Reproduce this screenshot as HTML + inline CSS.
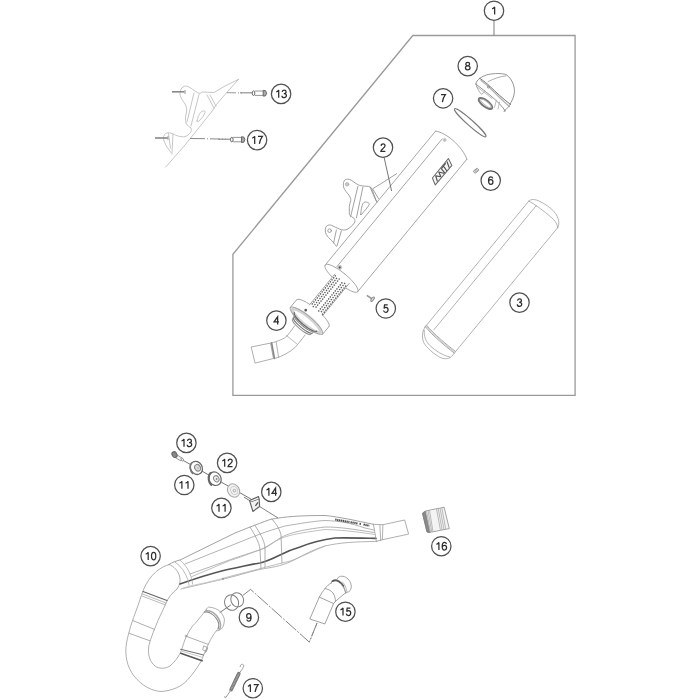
<!DOCTYPE html>
<html><head><meta charset="utf-8">
<style>
html,body{margin:0;padding:0;background:#fff;}
svg{display:block;}
.c circle{fill:#fff;stroke:#505050;stroke-width:1.25;}
.dg path{fill:none;stroke:#2e2e2e;stroke-width:1.25;}
.fr{fill:none;stroke:#9a9a9a;stroke-width:1.3;}
.ld{fill:none;stroke:#666;stroke-width:0.9;}
.p{fill:none;stroke:#8c8c8c;stroke-width:0.8;stroke-linejoin:round;stroke-linecap:round;}
.pl{fill:none;stroke:#b4b4b4;stroke-width:0.8;stroke-linejoin:round;stroke-linecap:round;}
.pd{fill:none;stroke:#555;stroke-width:1;stroke-linecap:round;}
</style></head>
<body>
<svg width="700" height="700" viewBox="0 0 700 700">
<rect width="700" height="700" fill="#fff"/>
<!-- frame -->
<path class="fr" d="M412.8,35.5 L575.1,35.5 L575.1,395.3 L232.9,395.3 L232.9,254.3 Z"/>
<line class="ld" x1="494" y1="20.5" x2="494" y2="35.5" style="stroke:#888;stroke-width:1.1"/>

<!-- PARTS -->
<g id="parts">
<!-- ===== TOP SECTION ===== -->
<!-- sleeve 3 -->
<g transform="translate(439.7,340) rotate(-50.5)" class="pl" style="stroke:#a8a8a8">
  <path d="M0,-19.6 L163.9,-19.6 M4,-11 L165,-11 M0,19.6 L161.7,19.6"/>
  <path d="M163.9,-19.6 C167,-19.5 169.5,-16 170.7,-10.7 C172,-5 172.5,1 172,5 C171.5,10 169.5,15 165.1,18.3 L161.7,19.6"/>
  <path d="M165,-11 C165.8,-4 165.8,6 165.3,11.5 C165,15 163.5,18 161.7,19.6"/>
  <path d="M163.9,-19.6 C164.5,-16 165,-13 165,-11"/>
  <!-- bottom band + cap -->
  <path d="M1.2,-19.6 C-1.2,-8 -1.2,8 -0.8,19.6" style="stroke:#a0a0a0;stroke-width:0.9"/>
  <path d="M3,-19.6 C0.8,-8 0.8,8 1.2,19.6" style="stroke:#a0a0a0;stroke-width:0.9"/>
  <path d="M2.1,-19.6 C-0.2,-8 -0.2,8 0.2,19.6" style="stroke:#d0d0d0;stroke-width:1.4"/>
  <path d="M1,-19.4 C-4,-19.5 -9,-16 -12,-11 C-14.5,-6 -14.5,6 -13,12 C-11.5,17 -8,19.5 -5,19.6 L-0.8,19.6"/>
  <path d="M-2.3,-18.1 C-7,-15 -10,-10 -10.5,-4 C-11,4 -10,12 -6.7,18.9"/>
</g>

<!-- muffler 2 body -->
<g transform="translate(341.5,278.3) rotate(-50.5)" class="p" style="stroke:#999">
  <path d="M0,-21 L173.5,-21 M6,-11 L171.7,-11 M0,21 L171.6,21"/>
  <path d="M173.5,-21 C176.5,-16 177.5,-8 177.3,-2 C177,7 175,16 171.6,21"/>
  
  <ellipse cx="0" cy="0" rx="5.5" ry="21"/>
  <circle cx="7.2" cy="-8.3" r="2" style="fill:#ddd;stroke:#bbb;stroke-width:0.8"/><circle cx="7.2" cy="-8.3" r="1.1" style="fill:#555;stroke:none"/>
  <circle cx="172.4" cy="-8.4" r="1.6" style="fill:#bbb;stroke:#ccc;stroke-width:0.8"/>
  <!-- logo -->
  <path d="M135.2,6.3 L160.4,6.3 L157.3,13.4 L131.7,13 Z" style="stroke:#666;stroke-width:1;fill:#f4f4f4"/>
  <path d="M136,12 L139,7.5 L141.5,12 L144,7.5 L146,12 M148,7.3 L147,12.3 M149,7.3 L154.5,7.3 M151.5,7.3 L150,12.5 M154,12.5 L157,7.5" style="stroke:#555;stroke-width:1.2"/>
  <!-- flange local -->
  <g>
  <path d="M-55,-21 C-57.7615,-21 -60,-11.5983 -60,0 C-60,11.5983 -57.7615,21 -55,21 L-45,21  C-42.2385,-21 -40,-11.5983 -40,0 C-40,11.5983 -42.2385,21 -45,21" style="fill:#fff;stroke:none"/>
  <path d="M-55,-18 C-52.62511,-18 -50.7,-9.9414 -50.7,0 C-50.7,9.9414 -52.62511,18 -55,18 M-55,-18 C-57.37489,-18 -59.3,-9.9414 -59.3,0 C-59.3,9.9414 -57.37489,18 -55,18" style="fill:none;stroke:#d2d2d2;stroke-width:3.4"/>
  <path d="M-45,-21 C-42.2385,-21 -40,-11.5983 -40,0 C-40,11.5983 -42.2385,21 -45,21"/>
  <path d="M-45,-21 L-55,-21 M-45,21 L-55,21"/>
  <path d="M-55,-21 C-52.2385,-21 -50,-11.5983 -50,0 C-50,11.5983 -52.2385,21 -55,21" style="stroke:#999"/>
  <path d="M-55,-21 C-57.7615,-21 -60,-11.5983 -60,0 C-60,11.5983 -57.7615,21 -55,21"/>
  <path d="M-56.5,-14.5 C-58.43305,-14.5 -60.0,-8.00835 -60.0,0 C-60.0,8.00835 -58.43305,14.5 -56.5,14.5" style="stroke:#666;stroke-width:1.2"/>
  <path d="M-58.5,-13 C-60.1569,-13 -61.5,-7.1799 -61.5,0 C-61.5,7.1799 -60.1569,13 -58.5,13" style="stroke:#888;stroke-width:1"/>
  <path d="M-60.5,-12.5 C-62.1569,-12.5 -63.5,-6.9037500000000005 -63.5,0 C-63.5,6.9037500000000005 -62.1569,12.5 -60.5,12.5" style="stroke:#777;stroke-width:1"/>
  <path d="M-62.5,-12 C-64.1569,-12 -65.5,-6.6276 -65.5,0 C-65.5,6.6276 -64.1569,12 -62.5,12" style="stroke:#999;stroke-width:1"/>
  <circle cx="-47.3" cy="-7.4" r="1.35" style="fill:#555;stroke:none"/>
  </g>
  <rect x="-41" y="-7.8" width="40" height="17" style="fill:#fff;stroke:none"/>
  <!-- perforated tube -->
  <path d="M-1,-7.8 L-41,-7.8 M1,9.2 L-41,9.2"/>
  <g style="fill:#626262;stroke:none"><circle cx="-2.00" cy="-6.3" r="0.8"/><circle cx="-3.30" cy="-3.8" r="0.8"/><circle cx="-2.00" cy="-1.3" r="0.8"/><circle cx="-3.30" cy="3.2" r="0.8"/><circle cx="-2.00" cy="5.7" r="0.8"/><circle cx="-3.30" cy="8.2" r="0.8"/><circle cx="-4.60" cy="-6.3" r="0.8"/><circle cx="-5.90" cy="-3.8" r="0.8"/><circle cx="-4.60" cy="-1.3" r="0.8"/><circle cx="-5.90" cy="3.2" r="0.8"/><circle cx="-4.60" cy="5.7" r="0.8"/><circle cx="-5.90" cy="8.2" r="0.8"/><circle cx="-7.20" cy="-6.3" r="0.8"/><circle cx="-8.50" cy="-3.8" r="0.8"/><circle cx="-7.20" cy="-1.3" r="0.8"/><circle cx="-8.50" cy="3.2" r="0.8"/><circle cx="-7.20" cy="5.7" r="0.8"/><circle cx="-8.50" cy="8.2" r="0.8"/><circle cx="-9.80" cy="-6.3" r="0.8"/><circle cx="-11.10" cy="-3.8" r="0.8"/><circle cx="-9.80" cy="-1.3" r="0.8"/><circle cx="-11.10" cy="3.2" r="0.8"/><circle cx="-9.80" cy="5.7" r="0.8"/><circle cx="-11.10" cy="8.2" r="0.8"/><circle cx="-12.40" cy="-6.3" r="0.8"/><circle cx="-13.70" cy="-3.8" r="0.8"/><circle cx="-12.40" cy="-1.3" r="0.8"/><circle cx="-13.70" cy="3.2" r="0.8"/><circle cx="-12.40" cy="5.7" r="0.8"/><circle cx="-13.70" cy="8.2" r="0.8"/><circle cx="-15.00" cy="-6.3" r="0.8"/><circle cx="-16.30" cy="-3.8" r="0.8"/><circle cx="-15.00" cy="-1.3" r="0.8"/><circle cx="-16.30" cy="3.2" r="0.8"/><circle cx="-15.00" cy="5.7" r="0.8"/><circle cx="-16.30" cy="8.2" r="0.8"/><circle cx="-17.60" cy="-6.3" r="0.8"/><circle cx="-18.90" cy="-3.8" r="0.8"/><circle cx="-17.60" cy="-1.3" r="0.8"/><circle cx="-18.90" cy="3.2" r="0.8"/><circle cx="-17.60" cy="5.7" r="0.8"/><circle cx="-18.90" cy="8.2" r="0.8"/><circle cx="-20.20" cy="-6.3" r="0.8"/><circle cx="-21.50" cy="-3.8" r="0.8"/><circle cx="-20.20" cy="-1.3" r="0.8"/><circle cx="-21.50" cy="3.2" r="0.8"/><circle cx="-20.20" cy="5.7" r="0.8"/><circle cx="-21.50" cy="8.2" r="0.8"/><circle cx="-22.80" cy="-6.3" r="0.8"/><circle cx="-24.10" cy="-3.8" r="0.8"/><circle cx="-22.80" cy="-1.3" r="0.8"/><circle cx="-24.10" cy="3.2" r="0.8"/><circle cx="-22.80" cy="5.7" r="0.8"/><circle cx="-24.10" cy="8.2" r="0.8"/><circle cx="-25.40" cy="-6.3" r="0.8"/><circle cx="-26.70" cy="-3.8" r="0.8"/><circle cx="-25.40" cy="-1.3" r="0.8"/><circle cx="-26.70" cy="3.2" r="0.8"/><circle cx="-25.40" cy="5.7" r="0.8"/><circle cx="-26.70" cy="8.2" r="0.8"/><circle cx="-28.00" cy="-6.3" r="0.8"/><circle cx="-29.30" cy="-3.8" r="0.8"/><circle cx="-28.00" cy="-1.3" r="0.8"/><circle cx="-29.30" cy="3.2" r="0.8"/><circle cx="-28.00" cy="5.7" r="0.8"/><circle cx="-29.30" cy="8.2" r="0.8"/><circle cx="-30.60" cy="-6.3" r="0.8"/><circle cx="-31.90" cy="-3.8" r="0.8"/><circle cx="-30.60" cy="-1.3" r="0.8"/><circle cx="-31.90" cy="3.2" r="0.8"/><circle cx="-30.60" cy="5.7" r="0.8"/><circle cx="-31.90" cy="8.2" r="0.8"/><circle cx="-33.20" cy="-6.3" r="0.8"/><circle cx="-34.50" cy="-3.8" r="0.8"/><circle cx="-33.20" cy="-1.3" r="0.8"/><circle cx="-34.50" cy="3.2" r="0.8"/><circle cx="-33.20" cy="5.7" r="0.8"/><circle cx="-34.50" cy="8.2" r="0.8"/><circle cx="-35.80" cy="-6.3" r="0.8"/><circle cx="-37.10" cy="-3.8" r="0.8"/><circle cx="-35.80" cy="-1.3" r="0.8"/><circle cx="-37.10" cy="3.2" r="0.8"/><circle cx="-35.80" cy="5.7" r="0.8"/><circle cx="-37.10" cy="8.2" r="0.8"/><circle cx="-38.40" cy="-6.3" r="0.8"/><circle cx="-39.70" cy="-3.8" r="0.8"/><circle cx="-38.40" cy="-1.3" r="0.8"/><circle cx="-39.70" cy="3.2" r="0.8"/><circle cx="-38.40" cy="5.7" r="0.8"/><circle cx="-39.70" cy="8.2" r="0.8"/></g>
  </g>
<!-- bracket on muffler -->
<g class="p" style="stroke:#8a8a8a">
  <path d="M396.6,173.7 L380,184.3 L372.9,188.6"/>
  <path d="M377.1,202.1 L375.7,199.3 L371.4,187.9 C370,187 369.5,186.6 368.6,186.4 C364,186 361,186 358.6,185 C355,183.5 352,180 349.3,179.3 C347,178.8 345,179.5 344.3,180.7 C343.3,182.5 343.2,185 343.6,187.1 C344.5,190.5 347.5,193 349.3,195.7 C350.5,197.5 351,199 350.7,200.7 C350.3,203 349.3,204.5 349.3,206.4 L349.3,214.3 C349.8,216.5 353,217 354.3,218.6 C355,220 355.3,221.5 354.3,222.9 C352.5,226 350,227.5 347,229.5 C344.5,230.5 342,230 340,229.3 C337,228.3 334,226.2 331.5,225.3 C329.5,224.6 327.5,225 326.3,226.5 C325.2,228 325.2,230.5 325.5,232.5 C326,235 328,237 330,239 C332,241 334.5,243.5 336.4,246.4"/>
  <path d="M357.9,186.4 L350.7,216.4 M362.9,187.1 L356.4,217.9"/>
  <path d="M370,187.1 L376.4,201.4 M372.9,189.3 L378.6,198.6"/>
  <path d="M336.4,230 L333.6,242.9 M341.4,230.7 L337.1,245.7"/>
  <circle cx="347.1" cy="184.3" r="1.7" style="fill:#ccc;stroke:#aaa"/>
  <circle cx="329.6" cy="230.7" r="1.8"/>
  <path d="M360.7,214.3 C361,210 361.8,206 362.9,203.6 C364,202 365.5,201.8 366.4,202.1 C368,202.5 369.5,203.2 369.3,204.3 C368.5,207 364,211 361.5,214.5 C361,215 360.6,214.8 360.7,214.3 Z"/>
</g>
<!-- pipe 4 -->
<g class="p" style="stroke:#999">
  <path d="M251.6,346.9 L270.5,343.1 L273.5,358.5 L255.4,363 Z"/>
  <path d="M271.6,342.9 L274.4,358.3" style="stroke:#8a8a8a;stroke-width:1.7"/><path d="M276.2,342 L278.6,357.2" style="stroke:#aaa;stroke-width:0.9"/>
  <path d="M271.5,343.1 C278,341 284,339 287,336 C290,333 292,329 294.5,326"/>
  <path d="M274.7,358.5 C283,356 290,352 295,347.5 C299,343 302,339 305,335"/>
  <path d="M286.5,335.5 C290,338 294,342 297.5,344.5" style="stroke:#aaa"/>
</g>




<!-- screw 5 -->
<g style="fill:none;stroke:#888;stroke-width:1">
  <path d="M366.8,295.4 L371.5,298.5" style="stroke-width:1.6;stroke:#999"/>
  <ellipse cx="372.6" cy="299.2" rx="1.1" ry="2.6" transform="rotate(35 372.6 299.2)" style="fill:#ddd;stroke:#888"/>
</g>

<!-- screw 6 -->
<g transform="translate(476.1,170.7) rotate(-38)"><rect x="-2.6" y="-1.4" width="5.2" height="2.8" rx="0.6" style="fill:#ddd;stroke:#888;stroke-width:0.8"/><path d="M-0.6,-1.4 L-0.6,1.4 M1,-1.4 L1,1.4" style="stroke:#999;stroke-width:0.7"/></g>
<!-- O-ring 7 -->
<ellipse cx="470.2" cy="122.7" rx="21" ry="2.9" transform="rotate(41.6 470.2 122.7)" class="p" style="stroke:#7a7a7a;stroke-width:1.1"/>
<!-- cap 8 -->
<g class="p" style="stroke:#7a7a7a">
  <path d="M479.7,78.4 C483,76 486,75 488.1,74.5 C492,73.8 495,73.5 497.7,73.5 C501,73.6 504,73.9 506.1,74.5 C508,76 509.5,77.5 510.6,79 C512.5,82 513.3,84 513.8,86.1 C514.5,89 514.6,90.5 514.4,92.5 C514,96 513,98.5 511.8,100.8 C510.5,103.5 509.5,105.5 508,107.3 C506.8,108.8 505.5,110 504.1,111.1"/>
  <path d="M488.1,81.6 C494,78.5 500,76.5 506.1,75.8" style="stroke:#999"/>
  <path d="M479.7,78.4 C484,81 487,83.5 490,86.5 C496,92 503,99 510.6,104.5" style="stroke:#777;stroke-width:1"/>
  <path d="M481,80.6 C486,84 489.5,87.5 492.5,90.5 C498,96 504,102 509.5,106.5" style="stroke:#b0b0b0;stroke-width:1.2"/>
  <path d="M479.7,78.4 C477.5,80 476,82 475.9,84.1"/>
  <path d="M475.9,84.1 C481,88 486,92 491,96 C497,101 502,106 505.4,111.1 L504.1,111.1"/>
  <path d="M476.5,86.5 C482,90.5 487,94.5 492,98.5" style="stroke:#aaa"/>
  <path d="M475.9,84.1 C477,88 479,92 481.6,94.4 L485,91.5" style="stroke:#999"/>
  <circle cx="488.4" cy="87" r="1.1" style="stroke:#888"/>
  <path d="M496.4,100.2 L494.5,107.3 M499.6,102.1 L498,109" style="stroke:#aaa"/>
  <ellipse cx="485.5" cy="103.5" rx="8.2" ry="3.2" transform="rotate(37 485.5 103.5)" style="stroke:#777;stroke-width:2;fill:#fff"/>
  <ellipse cx="485.9" cy="103.3" rx="6.2" ry="1.9" transform="rotate(37 485.9 103.3)" style="stroke:#bbb;stroke-width:1"/>
</g>
<!-- leader 2 -->
<line x1="384" y1="157" x2="391.6" y2="191" class="ld"/>

<!-- top-left bracket (faint) -->
<g class="pl" style="stroke:#b8b8b8">
  <path d="M238.6,79.3 L225,86 L214,92.5 L202,92 L200,93.5 C197,93 194,90 189,87 C187,86 185,85.5 183,87 C181,88 180,91 180,95 C181,99 184,102 185,104 C186.5,107 187,109 186.5,112 C185.5,116 185,120 186,123 C187,126 190,127 191,128 C192,130 191,133 188,135 C186,136.5 184,137 182,136.8 C179,136.5 176,135.5 173,134 C170,132.5 167.5,132.5 165.5,133.5 C163.5,135 163,138 164,141 C165.5,145 168,149 171,152.5"/>
  <path d="M238.6,79.3 L225,94.5 L216,105 L213,110 L185,145 L165.7,167.1"/>
  <path d="M194,93 L187,122 M199,94.5 L191,126 M207,95 L214,108 M210,95 L216,106"/>
  <path d="M168.5,133.5 L170.5,148 M173,134 L172,154"/>
  <path d="M197,121 C198,117 199.5,113 201,112 C203,110.5 205.5,110.5 205,112.5 C204.5,115 202,118 199,121 C198,122 197,122 197,121 Z"/>
</g>
<!-- bolts 13/17 top -->
<g>
  <path d="M172,91.8 L184.6,91.8" style="stroke:#888;stroke-width:1.6"/>
  <path d="M226.9,92.7 L236,92.8 M238,92.9 L239,92.9 M241,93 L242,93" style="stroke:#999;stroke-width:1"/>
  <path d="M155,138 L168,138" style="stroke:#888;stroke-width:1.6"/><path d="M168,136 L168,140" style="stroke:#aaa;stroke-width:1.2"/><path d="M185,90 L185,94" style="stroke:#aaa;stroke-width:1.2"/>
  <path d="M190,138.5 L205,138.7 M207,138.8 L208,138.8 M210,138.8 L220,139 M222,139 L223,139 M225,139.1 L226,139.2" style="stroke:#888;stroke-width:1"/>
  <g><g transform="translate(0,0)">
    <path d="M240,92.8 L252.5,92.8" style="stroke:#888;stroke-width:1.1"/>
    <ellipse cx="253.5" cy="93.2" rx="1.3" ry="2.3" style="fill:#fff;stroke:#666;stroke-width:1"/>
    <path d="M254.8,91 L263.2,91 M254.8,95.4 L263.2,95.4" style="stroke:#888;stroke-width:0.9"/>
    <path d="M263.2,90.4 L265.5,90.6 L266.6,93.2 L265.5,95.9 L263.2,96.1 Z" style="fill:#aaa;stroke:#666;stroke-width:1"/>
  </g><g transform="translate(-21.7,46.4)">
    <path d="M240,92.8 L252.5,92.8" style="stroke:#888;stroke-width:1.1"/>
    <ellipse cx="253.5" cy="93.2" rx="1.3" ry="2.3" style="fill:#fff;stroke:#666;stroke-width:1"/>
    <path d="M254.8,91 L263.2,91 M254.8,95.4 L263.2,95.4" style="stroke:#888;stroke-width:0.9"/>
    <path d="M263.2,90.4 L265.5,90.6 L266.6,93.2 L265.5,95.9 L263.2,96.1 Z" style="fill:#aaa;stroke:#666;stroke-width:1"/>
  </g></g>
</g>
</g>


<!-- ===== BOTTOM SECTION ===== -->
<!-- leader lines -->
<path d="M182.5,460 L251.4,499.3" class="ld" style="stroke:#666;stroke-width:0.9"/>
<path d="M259.6,506.5 L278,518" class="ld" style="stroke:#777;stroke-width:0.9"/><path d="M244,497.1 L249.6,500.6" class="ld" style="stroke:#666;stroke-width:0.9"/>
<path d="M242.9,595.4 L250.6,589.4 L309.3,642.1 L317.1,622.9" class="ld" style="stroke:#777;stroke-width:0.9;stroke-dasharray:14 1.5 2 1.5"/>
<path d="M219.7,612.6 L230.9,604.9" class="ld" style="stroke:#666"/>
<!-- bolt 13 bottom -->
<g style="fill:none">
  <path d="M176.5,454.5 L182.5,458.3 L181,461 L175,457.4 Z" style="fill:#f2f2f2;stroke:#888;stroke-width:0.8"/>
  <ellipse cx="174.5" cy="454.6" rx="2.4" ry="3" transform="rotate(-30 174.5 454.6)" style="fill:#888;stroke:#666;stroke-width:1"/>
  <ellipse cx="182.3" cy="459.5" rx="1" ry="1.8" transform="rotate(-30 182.3 459.5)" style="fill:#fff;stroke:#888;stroke-width:0.8"/>
</g>
<!-- washer 11 -->
<g>
  <ellipse cx="196.4" cy="467.9" rx="5.8" ry="6.8" transform="rotate(-30 196.4 467.9)" style="fill:#fff;stroke:#666;stroke-width:1.3"/>
  <path d="M192,462.5 C189,465 189.5,471 193,474" style="fill:none;stroke:#777;stroke-width:1.4"/>
  <ellipse cx="197.6" cy="467.8" rx="2.8" ry="3.4" transform="rotate(-30 197.6 467.8)" style="fill:#ddd;stroke:#888;stroke-width:1.1"/>
  <circle cx="198" cy="468" r="1" style="fill:#bbb"/>
</g>
<!-- grommet 12 -->
<g>
  <ellipse cx="215" cy="478.7" rx="6" ry="7" transform="rotate(-30 215 478.7)" style="fill:#fff;stroke:#666;stroke-width:1.2"/>
  <path d="M211,472.5 C207.5,475 208,483 212,485.5" style="fill:none;stroke:#666;stroke-width:2"/>
  <ellipse cx="216.3" cy="478.8" rx="2.6" ry="3.2" transform="rotate(-30 216.3 478.8)" style="fill:#eee;stroke:#888;stroke-width:1"/>
  <circle cx="216.6" cy="479" r="0.9" style="fill:#888"/>
</g>
<!-- washer 11 b -->
<g>
  <ellipse cx="233.6" cy="490.5" rx="5.8" ry="7" transform="rotate(-30 233.6 490.5)" style="fill:#f2f2f2;stroke:#aaa;stroke-width:1.1"/>
  <ellipse cx="234.2" cy="490.5" rx="3.4" ry="4.2" transform="rotate(-30 234.2 490.5)" style="fill:none;stroke:#ccc;stroke-width:1"/>
  <circle cx="234.4" cy="490.6" r="1.3" style="fill:none;stroke:#999;stroke-width:0.8"/>
</g>
<!-- nut 14 -->
<g style="fill:none;stroke-linejoin:round">
  <path d="M249.6,500.6 L258.5,496.5 L259.2,499.2 L250.2,502.6 Z" style="fill:#f0f0f0;stroke:#5a5a5a;stroke-width:1.1"/>
  <path d="M250.2,502.6 L252.9,511.4 L259.6,506.5 L259.2,499.2" style="fill:#f2f2f2;stroke:#666;stroke-width:1.2"/>
  <path d="M255.4,506 L258,502.3" style="stroke:#555;stroke-width:1.3"/>
</g>



<!-- exhaust pipe 10 -->
<g class="p" style="stroke:#9a9a9a">
  <!-- bend outer -->
  <path d="M169,564.5 C161,567 155,572 151,577 C147,582 144,588 143,591 C141,596 139,603 136,611 C133,619 129,630 126.5,643 C124.5,655 127,667 134,676 C142,686 152,691 161,691.5 C172,691 182,686 187,680.5 C193,674 197,668 200.7,662 C202,660 203,656 203.6,655"/>
  <!-- bend inner -->
  <path d="M177,589 C172,593 168,598 166,603 C163,610 160,616 158,620.5 C155,628 151,637 148.8,646 C147.5,655 150,662 155,666 C159,669 165,669 170,666 C175,662 178,657 180.6,652.5 C183,646 184,641 186.4,636.5 C189,631 192,626 195,623.6 C199,619 203,614 206.4,609.3"/>
  <!-- joint curve to cone -->
  <path d="M169,564.5 C174,566 178,571 179.5,576 C180.5,580 180.5,584 177,589"/>
  <!-- bands -->
  <path d="M143,591.5 L167,600.5" style="stroke:#666;stroke-width:1.2"/>
  <path d="M142.5,594 L166,603 M142,596 L165.5,605" style="stroke:#aaa"/>
  <path d="M133.1,620.7 L154.3,629.3 M129.1,633.3 L149.7,640.7"/>
  <!-- right leg band/clamp -->
  <path d="M186.4,636.4 L207.9,644.3"/>
  <path d="M180.7,649.3 L203.6,655" style="stroke:#777;stroke-width:1.1"/>
  <path d="M180.7,653.3 L202.1,660.7" style="stroke:#555;stroke-width:1.5"/>
  <path d="M182,651.2 L203,657.5" style="stroke:#bbb"/>
  <path d="M204,646 l3.5,1.5 l-1,4 l-3.5,-1.5 z M205,653 l2.5,-5" style="stroke:#999"/>
  <circle cx="186" cy="636" r="0.9" style="stroke:#999"/>
  <!-- right leg outer contour -->
  <path d="M216.4,630.7 C213,635 211,639 209.3,642.1 C207,647 205,652 203.6,655"/>
  <!-- socket -->
  <path d="M206.4,609.3 C207,608 208,607 209.3,607.1 C213,607.5 218,609 220.7,612.1 C223,615 225,618.5 224.3,621.4 C224,625 222.5,628.5 220.7,629.3 C219,630.5 217.5,631 216.4,630.7"/>
  <path d="M204.3,612.1 C208,611 213,614 216,618 C219,622 219.5,626 217.9,629.3" style="stroke:#888;stroke-width:1.1"/>
  <path d="M206.5,610.8 C211,610 216,614 218.5,618.5 C221,623 221,627 219.5,629.5" style="stroke:#aaa;stroke-width:1.6"/>

  <!-- cone lines -->
  <path d="M169,564.5 C172,562.5 176,561 180,560 L235,533 C245,529 255,525 270,519.5 C285,516.5 300,515.5 325,515.5 C340,517 355,520.5 373.4,524.3" style="stroke:#8a8a8a"/>
  <path d="M185,564 L235,544 L260,534 C268,531 275,529 285,526 C300,523.5 315,521 325,520.5 C340,521 350,523 365,528 L373.8,530" style="stroke:#a0a0a0"/>
  <path d="M190,574 L235,558 C250,553 260,550 265,548 C272,544 278,539 282,537 C290,533 300,530 325,527 C340,527 352,529 374,532.5" style="stroke:#a0a0a0"/>
  <path d="M192,576.5 L230,560.5 C245,556 255,551 260,550 C268,546 275,541 280,539 C288,535 300,533 325,529.5 C340,530 352,531 374.5,534.5" style="stroke:#b0b0b0"/>
  <path d="M180,584 C200,577 215,572 230,569 C245,566 252,564 260,563 C268,561 274,558 280,555 C288,551 293,549 300,547 C310,543 320,540 335,538 C345,537.5 360,538 376,538.4" style="stroke:#555;stroke-width:1.6"/>
  <path d="M181,589 L222.9,579.2 C240,575 252,571 262,569 C275,567 285,565 295,559.5 C305,554 315,549 325,546 C340,542.5 355,541.8 376.4,541.4" style="stroke:#a0a0a0"/>
  <path d="M222.9,578.3 C245,572.5 270,566 289.8,561.1 C300,558 310,552 325,546" style="stroke:#b0b0b0"/>
  <path d="M182,588.6 L222.9,578.3 L222.9,579.4 L190,585.8 Z" style="fill:#d6d6d6;stroke:#c4c4c4;stroke-width:0.6"/>
  <circle cx="223" cy="578.8" r="0.9" style="fill:#888;stroke:none"/>
  <!-- cone bands -->
  <path d="M175,562 C181,566 185,572 188,580 L189,585" style="stroke:#aaa"/>
  <path d="M180,560 C186,565 190,572 192,580 L192.5,584" style="stroke:#aaa"/>
  <path d="M250,527 C255,535 259,542 260,549 L261,568.5" style="stroke:#999"/>
  <path d="M255,525.5 C260,533 264,540 265,547 L265,567" style="stroke:#999"/>
  <path d="M272,519 C277,525 280,530 281,535 L282,563" style="stroke:#999"/>
  <!-- right collar + outlet -->
  <path d="M373.4,524.3 L376.4,541.4 M373.4,524.3 L382.9,524.7 L382.4,539.7 L376.4,541.4 M379.9,525.1 L380.7,540.6"/>
  <path d="M382.9,524.7 L404.7,520 L408.6,534.1 L382.4,539.7"/>
</g>
<!-- stamped text on pipe -->
<path d="M335.2,519.6 L349.5,522 M350.5,522.2 L357.5,523.4 M359.5,523.8 L361,524 M363.5,524.5 L369.4,525.8" style="stroke:#4a4a4a;stroke-width:2;stroke-dasharray:1.4 0.5"/>

<!-- O-ring 9 -->
<g style="fill:none;stroke:#808080;stroke-width:1">
  <ellipse cx="231.6" cy="602.6" rx="7" ry="7.8" transform="rotate(-20 231.6 602.6)"/>
  <ellipse cx="237.2" cy="599.8" rx="6.3" ry="7.2" transform="rotate(-20 237.2 599.8)"/>
</g>

<!-- part 15 -->
<g class="p" style="stroke:#8a8a8a">
  <path d="M310,618.6 L319.3,597.1 L333.6,603.6 L325,623.6 Z"/>
  <path d="M319.3,597.1 C321,594 323,591 325,588.6 C327,586 329,584 331.4,582.9"/>
  <path d="M325,588.6 C328,589 331,590.5 333,593 C335,596 335.5,599 335.4,601.4"/>
  <path d="M333.6,603.6 L335.4,601.4 C337.5,599.5 340,597.5 342.1,595.7 C343.5,594.5 344.5,593.5 345.7,592.9"/>
  <path d="M331.4,582.9 L331.4,581.4 C333,580 335,579.5 336.4,580 C338,580.5 339,581.2 340,582.1 C341.5,583.5 342.8,585 343.6,586.4 C344.6,588.5 345.3,590.5 345.7,592.9"/>
  <path d="M332.5,581.2 C334.5,580 337,580.2 339,581.5 C341,583 342.5,584.5 343.5,586" style="stroke:#555;stroke-width:1.6"/>
  <path d="M336.4,580 L338.6,577.1 C341,575.5 345,576 348,579 C351,582 352.5,587 350,590.7 C349,591.8 348,592.2 347.1,592.1 L345.7,592.9"/>
  <path d="M340.7,583.5 C342.5,585.5 344,588 345.3,591.5" style="stroke:#999"/>
  <path d="M342.5,582 C344.5,584 346,587 347.1,592" style="stroke:#aaa"/>
</g>

<path d="M317.1,622.9 L309.3,642.1" class="ld" style="stroke:#888;stroke-dasharray:5 1.5 1.5 1.5"/>
<!-- sleeve 16 -->
<g style="stroke-linejoin:round">
  <path d="M422.4,513.1 L425.3,511.1 L431.6,509.7 L435.6,508.9 L440.7,508 L444.1,507.1 L449.3,528.6 L440.7,530.3 L436.7,531.1 L431.6,532 L429.3,532.6 L427,532 Z" style="fill:#f4f4f4;stroke:#999;stroke-width:0.9"/>
  <path d="M422.6,513.3 L425.3,511.3 L429.8,532.4 L427,532 Z" style="fill:#8a8a8a;stroke:#777;stroke-width:0.7"/>
  <path d="M426.5,511 L430.5,532.2 M428,510.6 L431.8,532 M429.5,510.2 L433,531.8" style="fill:none;stroke:#aaa;stroke-width:0.8"/>
  <path d="M436.5,508.8 L440.5,530.3 M438.2,508.5 L442.2,530 M440,508.1 L444,529.7 M441.8,507.8 L445.8,529.4" style="fill:none;stroke:#aaa;stroke-width:0.8"/>
</g>

<!-- spring 17 -->
<g style="fill:none;stroke:#999;stroke-width:1">
  <path d="M240.3,667 C240,664.5 242.5,663.5 243.6,665 C244.3,666.5 242,670 238.8,673.6"/>
  <path d="M238.8,673.6 L231.1,689.7" style="stroke:#777;stroke-width:3.6;stroke-linecap:round"/>
  <path d="M238.8,673.6 L231.1,689.7" style="stroke:#aaa;stroke-width:1.8;stroke-dasharray:0.8 0.7"/>
  <path d="M231.1,689.7 L226.2,697 C225.5,698.5 224.5,698 224.8,696.2"/>
</g>


<!-- callouts -->
<g class="c">
<circle cx="494.0" cy="10.7" r="9.7"/>
<circle cx="467.7" cy="66.1" r="9.7"/>
<circle cx="443.1" cy="98.3" r="9.7"/>
<circle cx="383.0" cy="147.6" r="9.7"/>
<circle cx="490.7" cy="180.6" r="9.7"/>
<circle cx="281.1" cy="93.9" r="9.7"/>
<circle cx="257.1" cy="140.1" r="9.7"/>
<circle cx="385.8" cy="308.5" r="9.7"/>
<circle cx="276.4" cy="320.6" r="9.7"/>
<circle cx="519.5" cy="302.6" r="9.7"/>
<circle cx="186.4" cy="442.9" r="9.7"/>
<circle cx="227.1" cy="462.9" r="9.7"/>
<circle cx="184.3" cy="485.0" r="9.7"/>
<circle cx="221.4" cy="507.9" r="9.7"/>
<circle cx="271.3" cy="491.9" r="9.7"/>
<circle cx="441.3" cy="546.2" r="9.7"/>
<circle cx="150.6" cy="556.1" r="9.7"/>
<circle cx="248.9" cy="617.4" r="9.7"/>
<circle cx="345.4" cy="611.7" r="9.7"/>
<circle cx="252.8" cy="688.2" r="9.7"/>
<g class="dg">
<path transform="translate(491.25,14.50)" d="M0.9,-5.7 C2.1,-6.1 3,-6.8 3.4,-7.6 L3.4,0"/>
<path transform="translate(464.95,69.90)" d="M2.8,-4.1 C1.6,-4.1 0.9,-4.9 0.9,-5.85 C0.9,-6.9 1.7,-7.6 2.8,-7.6 C3.9,-7.6 4.7,-6.9 4.7,-5.85 C4.7,-4.9 4,-4.1 2.8,-4.1 C1.4,-4.1 0.5,-3.3 0.5,-2.05 C0.5,-0.8 1.5,0 2.8,0 C4.1,0 5.1,-0.8 5.1,-2.05 C5.1,-3.3 4.2,-4.1 2.8,-4.1 Z"/>
<path transform="translate(440.35,102.10)" d="M0.6,-7.5 L5,-7.5 C3.5,-5.5 2.3,-3 2,0"/>
<path transform="translate(380.25,151.40)" d="M0.8,-5.5 C0.9,-6.9 1.7,-7.6 2.8,-7.6 C4,-7.6 4.8,-6.8 4.8,-5.6 C4.8,-4.3 3.8,-3.6 2.6,-2.7 C1.4,-1.8 0.7,-1 0.6,-0.1 L5.1,-0.1"/>
<path transform="translate(487.95,184.40)" d="M4.8,-5.9 C4.6,-7 3.8,-7.6 2.9,-7.6 C1.3,-7.6 0.6,-6 0.6,-3.6 C0.6,-1.2 1.4,0 2.9,0 C4.1,0 5,-1 5,-2.4 C5,-3.8 4.1,-4.7 2.9,-4.7 C1.8,-4.7 0.9,-4 0.7,-2.8"/>
<path transform="translate(275.30,97.70)" d="M0.9,-5.7 C2.1,-6.1 3,-6.8 3.4,-7.6 L3.4,0"/><path transform="translate(281.40,97.70)" d="M0.8,-5.7 C1,-7 1.8,-7.6 2.8,-7.6 C3.9,-7.6 4.7,-6.9 4.7,-5.8 C4.7,-4.7 3.8,-4.1 2.4,-4.1 M2.4,-4.1 C4,-4.1 5,-3.4 5,-2.1 C5,-0.8 4,0 2.8,0 C1.5,0 0.6,-0.8 0.5,-2"/>
<path transform="translate(251.30,143.90)" d="M0.9,-5.7 C2.1,-6.1 3,-6.8 3.4,-7.6 L3.4,0"/><path transform="translate(257.40,143.90)" d="M0.6,-7.5 L5,-7.5 C3.5,-5.5 2.3,-3 2,0"/>
<path transform="translate(383.05,312.30)" d="M4.7,-7.5 L1.5,-7.5 L1,-3.8 C1.5,-4.5 2.2,-4.8 2.9,-4.8 C4.2,-4.8 5,-3.8 5,-2.5 C5,-1 4,0 2.8,0 C1.6,0 0.7,-0.7 0.5,-1.8"/>
<path transform="translate(273.65,324.40)" d="M4,0 L4,-7.6 L0.4,-2.4 L5.3,-2.4"/>
<path transform="translate(516.75,306.40)" d="M0.8,-5.7 C1,-7 1.8,-7.6 2.8,-7.6 C3.9,-7.6 4.7,-6.9 4.7,-5.8 C4.7,-4.7 3.8,-4.1 2.4,-4.1 M2.4,-4.1 C4,-4.1 5,-3.4 5,-2.1 C5,-0.8 4,0 2.8,0 C1.5,0 0.6,-0.8 0.5,-2"/>
<path transform="translate(180.60,446.70)" d="M0.9,-5.7 C2.1,-6.1 3,-6.8 3.4,-7.6 L3.4,0"/><path transform="translate(186.70,446.70)" d="M0.8,-5.7 C1,-7 1.8,-7.6 2.8,-7.6 C3.9,-7.6 4.7,-6.9 4.7,-5.8 C4.7,-4.7 3.8,-4.1 2.4,-4.1 M2.4,-4.1 C4,-4.1 5,-3.4 5,-2.1 C5,-0.8 4,0 2.8,0 C1.5,0 0.6,-0.8 0.5,-2"/>
<path transform="translate(221.30,466.70)" d="M0.9,-5.7 C2.1,-6.1 3,-6.8 3.4,-7.6 L3.4,0"/><path transform="translate(227.40,466.70)" d="M0.8,-5.5 C0.9,-6.9 1.7,-7.6 2.8,-7.6 C4,-7.6 4.8,-6.8 4.8,-5.6 C4.8,-4.3 3.8,-3.6 2.6,-2.7 C1.4,-1.8 0.7,-1 0.6,-0.1 L5.1,-0.1"/>
<path transform="translate(178.50,488.80)" d="M0.9,-5.7 C2.1,-6.1 3,-6.8 3.4,-7.6 L3.4,0"/><path transform="translate(184.60,488.80)" d="M0.9,-5.7 C2.1,-6.1 3,-6.8 3.4,-7.6 L3.4,0"/>
<path transform="translate(215.60,511.70)" d="M0.9,-5.7 C2.1,-6.1 3,-6.8 3.4,-7.6 L3.4,0"/><path transform="translate(221.70,511.70)" d="M0.9,-5.7 C2.1,-6.1 3,-6.8 3.4,-7.6 L3.4,0"/>
<path transform="translate(265.50,495.70)" d="M0.9,-5.7 C2.1,-6.1 3,-6.8 3.4,-7.6 L3.4,0"/><path transform="translate(271.60,495.70)" d="M4,0 L4,-7.6 L0.4,-2.4 L5.3,-2.4"/>
<path transform="translate(435.50,550.00)" d="M0.9,-5.7 C2.1,-6.1 3,-6.8 3.4,-7.6 L3.4,0"/><path transform="translate(441.60,550.00)" d="M4.8,-5.9 C4.6,-7 3.8,-7.6 2.9,-7.6 C1.3,-7.6 0.6,-6 0.6,-3.6 C0.6,-1.2 1.4,0 2.9,0 C4.1,0 5,-1 5,-2.4 C5,-3.8 4.1,-4.7 2.9,-4.7 C1.8,-4.7 0.9,-4 0.7,-2.8"/>
<path transform="translate(144.80,559.90)" d="M0.9,-5.7 C2.1,-6.1 3,-6.8 3.4,-7.6 L3.4,0"/><path transform="translate(150.90,559.90)" d="M2.75,-7.6 C1.2,-7.6 0.6,-5.9 0.6,-3.8 C0.6,-1.7 1.2,0 2.75,0 C4.3,0 4.9,-1.7 4.9,-3.8 C4.9,-5.9 4.3,-7.6 2.75,-7.6 Z"/>
<path transform="translate(246.15,621.20)" d="M0.7,-1.7 C0.9,-0.6 1.7,0 2.6,0 C4.2,0 4.9,-1.6 4.9,-4 C4.9,-6.4 4.1,-7.6 2.6,-7.6 C1.4,-7.6 0.5,-6.6 0.5,-5.2 C0.5,-3.8 1.4,-2.9 2.6,-2.9 C3.7,-2.9 4.6,-3.6 4.8,-4.8"/>
<path transform="translate(339.60,615.50)" d="M0.9,-5.7 C2.1,-6.1 3,-6.8 3.4,-7.6 L3.4,0"/><path transform="translate(345.70,615.50)" d="M4.7,-7.5 L1.5,-7.5 L1,-3.8 C1.5,-4.5 2.2,-4.8 2.9,-4.8 C4.2,-4.8 5,-3.8 5,-2.5 C5,-1 4,0 2.8,0 C1.6,0 0.7,-0.7 0.5,-1.8"/>
<path transform="translate(247.00,692.00)" d="M0.9,-5.7 C2.1,-6.1 3,-6.8 3.4,-7.6 L3.4,0"/><path transform="translate(253.10,692.00)" d="M0.6,-7.5 L5,-7.5 C3.5,-5.5 2.3,-3 2,0"/>
</g></g>
</svg>
</body></html>
